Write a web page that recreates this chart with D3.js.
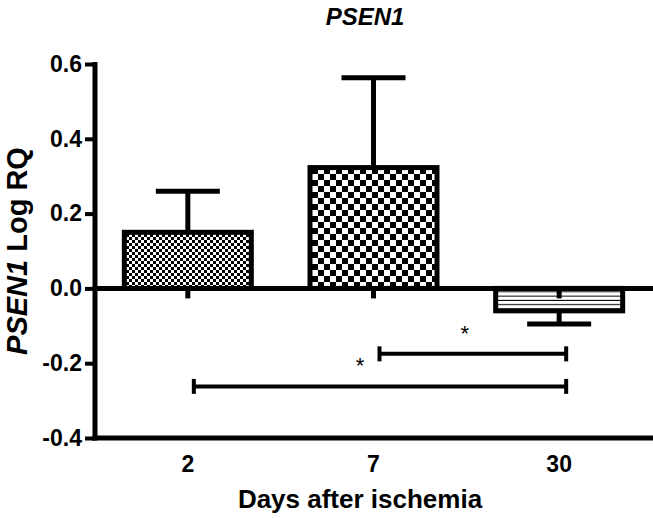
<!DOCTYPE html>
<html>
<head>
<meta charset="utf-8">
<script src="https://cdn.jsdelivr.net/npm/d3@7"></script>
<style>
  html, body { margin: 0; padding: 0; background: #fff; }
  svg { display: block; font-family: "Liberation Sans", Arial, sans-serif; }
</style>
</head>
<body>
<script>
// ---- data ----
const categories = ["2", "7", "30"];
const means = [0.15, 0.323, -0.06];
const sems = [0.11, 0.24, 0.035];
const patterns = ["checkFine", "checkCoarse", "hstripes"];
const yTickValues = [-0.4, -0.2, 0.0, 0.2, 0.4, 0.6];
const yTickLabels = ["-0.4", "-0.2", "0.0", "0.2", "0.4", "0.6"];
const bracketFrom = ["7", "2"];
const bracketTo = ["30", "30"];
const bracketLevel = [-0.175, -0.262];
const bracketLabel = ["*", "*"];
const chartTitle = "PSEN1";
const xTitle = "Days after ischemia";

// ---- layout ----
const W = 653, H = 518;
const mLeft = 95, mRight = 652, mTop = 64, mBottom = 438;

const svg = d3.select("body").append("svg").attr("width", W).attr("height", H);

const defs = svg.append("defs");
// fine checkerboard
const p1 = defs.append("pattern").attr("id", "checkFine").attr("patternUnits", "userSpaceOnUse")
  .attr("width", 6).attr("height", 6);
p1.append("rect").attr("width", 6).attr("height", 6).attr("fill", "#fff");
p1.append("rect").attr("width", 3).attr("height", 3).attr("fill", "#000");
p1.append("rect").attr("x", 3).attr("y", 3).attr("width", 3).attr("height", 3).attr("fill", "#000");
// coarse checkerboard
const p2 = defs.append("pattern").attr("id", "checkCoarse").attr("patternUnits", "userSpaceOnUse")
  .attr("width", 12).attr("height", 12);
p2.append("rect").attr("width", 12).attr("height", 12).attr("fill", "#fff");
p2.append("rect").attr("width", 6).attr("height", 6).attr("fill", "#000");
p2.append("rect").attr("x", 6).attr("y", 6).attr("width", 6).attr("height", 6).attr("fill", "#000");
// horizontal stripes
const p3 = defs.append("pattern").attr("id", "hstripes").attr("patternUnits", "userSpaceOnUse")
  .attr("width", 8).attr("height", 4.3).attr("y", 288);
p3.append("rect").attr("width", 8).attr("height", 4.3).attr("fill", "#fff");
p3.append("rect").attr("y", 3.3).attr("width", 8).attr("height", 1.3).attr("fill", "#000");

const x = d3.scaleBand().domain(categories).range([mLeft, mRight]).paddingInner(0.316).paddingOuter(0.158);
const y = d3.scaleLinear().domain([-0.4, 0.6]).range([mBottom, mTop]);

const bars = categories.map((c, i) => ({ c, m: means[i], s: sems[i], p: patterns[i] }));

// title
svg.append("text").attr("x", 365).attr("y", 25).attr("text-anchor", "middle")
  .attr("font-size", 24).attr("font-weight", "bold").attr("font-style", "italic").text(chartTitle);

// bars
svg.append("g").selectAll("rect").data(bars).join("rect")
  .attr("x", d => x(d.c))
  .attr("width", x.bandwidth())
  .attr("y", d => y(Math.max(0, d.m)))
  .attr("height", d => Math.abs(y(d.m) - y(0)))
  .attr("fill", d => `url(#${d.p})`)
  .attr("stroke", "#000").attr("stroke-width", 5);

// error bars
const capHalf = 32;
const eg = svg.append("g").attr("stroke", "#000").attr("stroke-width", 5).attr("fill", "none");
bars.forEach(d => {
  const cx = x(d.c) + x.bandwidth() / 2;
  const end = d.m >= 0 ? d.m + d.s : d.m - d.s;
  eg.append("line").attr("x1", cx).attr("x2", cx).attr("y1", y(d.m)).attr("y2", y(end));
  eg.append("line").attr("x1", cx - capHalf).attr("x2", cx + capHalf).attr("y1", y(end)).attr("y2", y(end));
});

// zero baseline with ticks
svg.append("line").attr("x1", mLeft).attr("x2", W).attr("y1", y(0)).attr("y2", y(0))
  .attr("stroke", "#000").attr("stroke-width", 5);
svg.append("g").selectAll("line").data(categories).join("line")
  .attr("x1", d => x(d) + x.bandwidth() / 2).attr("x2", d => x(d) + x.bandwidth() / 2)
  .attr("y1", y(0)).attr("y2", y(0) + 10)
  .attr("stroke", "#000").attr("stroke-width", 5);

// y axis
const yAxis = d3.axisLeft(y).tickValues(yTickValues)
  .tickFormat((d, i) => yTickLabels[i]).tickSize(10).tickPadding(3);
const ya = svg.append("g").attr("transform", `translate(${mLeft},0)`).call(yAxis);
ya.select(".domain").attr("stroke", "#000").attr("stroke-width", 5).attr("d", `M0,${mTop - 2}V${mBottom + 2.5}`);
ya.selectAll(".tick line").attr("stroke", "#000").attr("stroke-width", 4);
ya.selectAll(".tick text").attr("font-size", 23).attr("font-weight", "bold").attr("fill", "#000")
  .attr("font-family", "Liberation Sans, Arial, sans-serif");

// x axis (bottom)
const xAxis = d3.axisBottom(x).tickSize(0).tickPadding(18);
const xa = svg.append("g").attr("transform", `translate(0,${mBottom})`).call(xAxis);
xa.select(".domain").attr("stroke", "#000").attr("stroke-width", 5).attr("d", `M${mLeft - 2.5},0H${W}`);
xa.selectAll(".tick text").attr("font-size", 23).attr("font-weight", "bold").attr("fill", "#000")
  .attr("font-family", "Liberation Sans, Arial, sans-serif");

// x title
svg.append("text").attr("x", 360).attr("y", 508).attr("text-anchor", "middle")
  .attr("font-size", 26).attr("font-weight", "bold").text(xTitle);

// y title
const yt = svg.append("text").attr("transform", "translate(27,251) rotate(-90)")
  .attr("text-anchor", "middle").attr("font-size", 29).attr("font-weight", "bold");
yt.append("tspan").attr("font-style", "italic").text("PSEN1");
yt.append("tspan").text(" Log RQ");

// significance brackets
const bg = svg.append("g");
bracketFrom.forEach((f, i) => {
  const x1 = x(f) + x.bandwidth() / 2 + 6;
  const x2 = x(bracketTo[i]) + x.bandwidth() / 2 + 7;
  const by = y(bracketLevel[i]);
  bg.append("line").attr("x1", x1).attr("x2", x2).attr("y1", by).attr("y2", by)
    .attr("stroke", "#000").attr("stroke-width", 4);
  [x1, x2].forEach(xx => bg.append("line").attr("x1", xx).attr("x2", xx)
    .attr("y1", by - 7.5).attr("y2", by + 7.5).attr("stroke", "#000").attr("stroke-width", 4));
  const mid = (x1 + x2) / 2;
  const sx = i === 0 ? mid - 8 : mid - 20;
  bg.append("text").attr("x", sx).attr("y", by - 13).attr("text-anchor", "middle")
    .attr("font-size", 22).text(bracketLabel[i]);
});
</script>
</body>
</html>
